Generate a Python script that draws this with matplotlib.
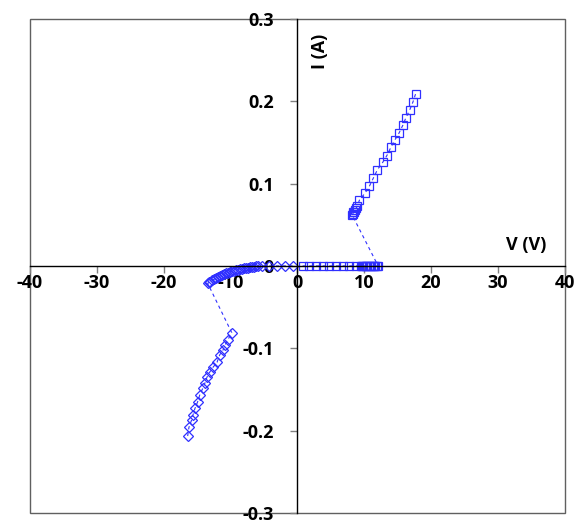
import matplotlib.pyplot as plt
from matplotlib.patches import Rectangle

# positive branch (squares): along V axis, then snap up to the upper branch
v_pos = [0.8, 1.8, 2.8, 3.8, 4.8, 5.8, 6.8, 7.8, 8.8, 9.5, 9.7, 9.9, 10.1, 10.3,
         10.5, 10.7, 10.9, 11.1, 11.3, 11.5, 11.7, 11.9, 12.1,
         8.2, 8.3, 8.4, 8.5, 8.6, 8.8, 9.0, 9.3, 10.1, 10.8, 11.4, 12.0, 12.8,
         13.4, 14.0, 14.6, 15.2, 15.8, 16.2, 16.8, 17.3, 17.7]
i_pos = [0, 0, 0, 0, 0, 0, 0, 0, 0, 0, 0, 0, 0, 0,
         0, 0, 0, 0, 0, 0, 0, 0, 0,
         0.062, 0.063, 0.065, 0.066, 0.068, 0.070, 0.073, 0.080, 0.088, 0.097,
         0.107, 0.117, 0.126, 0.134, 0.144, 0.153, 0.161, 0.171, 0.179, 0.189,
         0.199, 0.209]

# negative branch (diamonds)
v_neg = [-0.7, -1.9, -3.1, -4.2, -5.3, -5.8, -6.1, -6.4, -6.7, -7.0, -7.3, -7.6,
         -7.9, -8.2, -8.5, -8.8, -9.1, -9.4, -9.7, -10.0, -10.3, -10.6, -10.9,
         -11.2, -11.5, -11.8, -12.1, -12.4, -12.7, -13.0, -13.2, -13.4,
         -9.8, -10.4, -10.8, -11.1, -11.6, -12.0, -12.6, -13.1, -13.5, -13.8,
         -14.1, -14.6, -14.9, -15.3, -15.6, -15.8, -16.2, -16.4]
i_neg = [0, 0, 0, 0, 0, -0.0003, -0.0006, -0.001, -0.0013, -0.0017, -0.002,
         -0.0025, -0.003, -0.0035, -0.004, -0.0045, -0.005, -0.0057, -0.0064,
         -0.007, -0.008, -0.009, -0.010, -0.011, -0.012, -0.013, -0.0145,
         -0.016, -0.0175, -0.019, -0.020, -0.021,
         -0.081, -0.090, -0.096, -0.102, -0.108, -0.117, -0.123, -0.129, -0.135,
         -0.142, -0.148, -0.157, -0.165, -0.173, -0.181, -0.187, -0.196, -0.207]

x_ticks = [-40, -30, -20, -10, 0, 10, 20, 30, 40]
y_ticks = [-0.3, -0.2, -0.1, 0, 0.1, 0.2, 0.3]
y_labels = ['-0.3', '-0.2', '-0.1', '0', '0.1', '0.2', '0.3']

blue = '#3030ff'
font = dict(family='Open Sans', fontweight='bold', fontsize=13)

fig = plt.figure(figsize=(5.84, 5.23), dpi=100)
ax = fig.add_axes([0.051, 0.019, 0.916, 0.945])

ax.plot(v_pos, i_pos, ls=(0, (3, 3)), lw=0.8, color=blue, marker='s', ms=6,
        mfc='none', mec=blue, mew=0.9)
ax.plot(v_neg, i_neg, ls=(0, (3, 3)), lw=0.8, color=blue, marker='D', ms=5,
        mfc='none', mec=blue, mew=0.9)

ax.set_xlim(-40, 40)
ax.set_ylim(-0.3, 0.3)
ax.spines['left'].set_position(('data', 0))
ax.spines['bottom'].set_position(('data', 0))
ax.spines['top'].set_visible(False)
ax.spines['right'].set_visible(False)
for s in ['left', 'bottom']:
    ax.spines[s].set_linewidth(1.0)
    ax.spines[s].set_color('black')

ax.add_patch(Rectangle((0, 0), 1, 1, transform=ax.transAxes, fill=False,
                       edgecolor='#606060', lw=1.0, clip_on=False, zorder=0))

ax.set_xticks(x_ticks)
ax.set_xticklabels([str(t) for t in x_ticks], **font)
ax.set_yticks(y_ticks)
ax.set_yticklabels(y_labels, **font)
ax.tick_params(axis='both', direction='out', length=5, width=1, color='#808080')
ax.tick_params(axis='y', pad=12)
ax.tick_params(axis='x', pad=1)
for lab in ax.get_xticklabels() + ax.get_yticklabels():
    lab.set_zorder(5)

ax.text(34.3, 0.015, 'V (V)', ha='center', va='bottom', **font)
ax.text(3.4, 0.261, 'I (A)', ha='center', va='center', rotation=90, **font)

fig.savefig('out.png', dpi=100)
